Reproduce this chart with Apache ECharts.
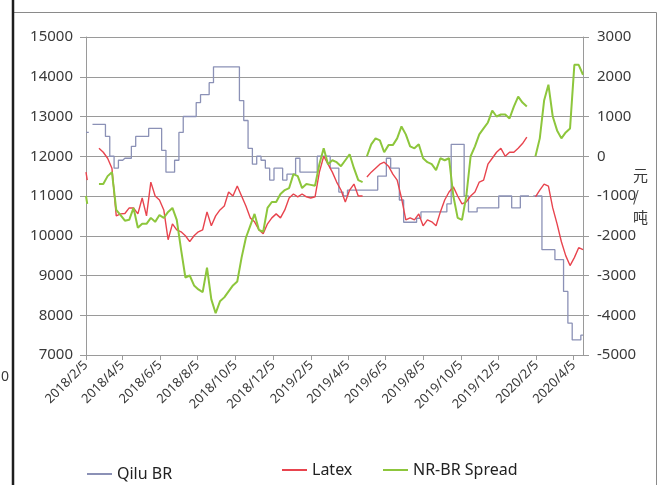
<!DOCTYPE html>
<html>
<head>
<meta charset="utf-8">
<script src="https://cdn.jsdelivr.net/npm/echarts@6/dist/echarts.min.js"></script>
<style>
  html, body { margin: 0; padding: 0; background: #fff; }
  #chart { width: 668px; height: 485px; }
</style>
</head>
<body>
<div id="chart"></div>
<script>
// Weekly observation dates (extra dates mark the start and the May holiday break)
const dates = [
  '2018-02-05','2018-02-07','2018-02-12','2018-02-19','2018-02-26','2018-03-05','2018-03-12','2018-03-19','2018-03-26',
  '2018-04-02','2018-04-09','2018-04-16','2018-04-23','2018-04-30','2018-05-07','2018-05-14','2018-05-21','2018-05-28',
  '2018-06-04','2018-06-11','2018-06-18','2018-06-25','2018-07-02','2018-07-09','2018-07-16','2018-07-23','2018-07-30',
  '2018-08-06','2018-08-13','2018-08-20','2018-08-27','2018-09-03','2018-09-10','2018-09-17','2018-09-24','2018-10-01',
  '2018-10-08','2018-10-15','2018-10-22','2018-10-29','2018-11-05','2018-11-12','2018-11-19','2018-11-26','2018-12-03',
  '2018-12-10','2018-12-17','2018-12-24','2018-12-31','2019-01-07','2019-01-14','2019-01-21','2019-01-28','2019-02-04',
  '2019-02-11','2019-02-18','2019-02-25','2019-03-04','2019-03-11','2019-03-18','2019-03-25','2019-04-01','2019-04-08',
  '2019-04-15','2019-04-22','2019-04-29','2019-05-02','2019-05-06','2019-05-13','2019-05-20','2019-05-27','2019-06-03',
  '2019-06-10','2019-06-17','2019-06-24','2019-07-01','2019-07-08','2019-07-15','2019-07-22','2019-07-29','2019-08-05',
  '2019-08-12','2019-08-19','2019-08-26','2019-09-02','2019-09-09','2019-09-16','2019-09-23','2019-09-30','2019-10-07',
  '2019-10-14','2019-10-21','2019-10-28','2019-11-04','2019-11-11','2019-11-18','2019-11-25','2019-12-02','2019-12-09',
  '2019-12-16','2019-12-23','2019-12-30','2020-01-06','2020-01-13','2020-01-20','2020-01-27','2020-02-03','2020-02-10',
  '2020-02-17','2020-02-24','2020-03-02','2020-03-09','2020-03-16','2020-03-23','2020-03-30','2020-04-06','2020-04-13',
  '2020-04-20'
];

// Qilu BR price, 元/吨 (left axis)
const qiluBR = [
  12600,12600,null,12800,12800,12800,12500,12000,11700,
  11900,11950,11950,12250,12500,12500,12500,12700,12700,
  12700,12150,11600,11600,11900,12600,13000,13000,13000,
  13350,13550,13550,13850,14250,14250,14250,14250,14250,
  14250,13400,12900,12200,11800,12000,11900,11700,11400,
  11700,11700,11400,11550,11550,11950,11600,11600,11600,
  11600,12000,12000,12000,11700,11700,11100,11000,11150,
  11150,11150,11150,11150,11150,11150,11150,11500,11500,
  11950,11700,11700,10900,10340,10340,10340,10440,10600,
  10600,10600,10600,10600,10600,10800,12300,12300,12300,
  11000,10600,10600,10700,10700,10700,10700,10700,11000,
  11000,11000,10700,10700,11000,11000,null,11000,11000,
  9650,9650,9650,9400,9400,8600,7800,7380,7380,
  7500
];

// Latex price, 元/吨 (left axis)
const latex = [
  11600,11400,null,null,12200,12100,11950,11700,10500,
  10550,10560,10700,10700,10550,10950,10500,11350,11000,
  10900,10650,9900,10300,10150,10100,10000,9850,10000,
  10100,10150,10600,10250,10500,10650,10750,11100,11000,
  11250,11000,10750,10450,10350,10150,10050,10300,10450,
  10550,10450,10650,10950,11050,10980,11050,10980,10950,
  10980,11600,12000,11800,11600,11350,11150,10850,11150,
  11300,11000,11000,null,11480,11600,11700,11800,11850,
  11750,11550,11400,10950,10400,10450,10400,10550,10250,
  10400,10350,10250,10600,10900,11100,11230,11000,10800,
  10850,11000,11100,11350,11400,11800,11950,12100,12200,
  12000,12100,12100,12200,12320,12480,null,10980,11150,
  11300,11250,10700,10300,9850,9500,9250,9450,9700,
  9650
];

// NR-BR spread, 元/吨 (right axis)
const nrBrSpread = [
  -1000,-1200,null,null,-700,-700,-500,-400,-1350,
  -1480,-1620,-1600,-1300,-1800,-1700,-1700,-1550,-1650,
  -1480,-1550,-1400,-1300,-1600,-2350,-3050,-3000,-3250,
  -3350,-3420,-2800,-3600,-3950,-3650,-3550,-3400,-3250,
  -3150,-2550,-2050,-1750,-1450,-1850,-1900,-1300,-1150,
  -1150,-950,-850,-800,-450,-500,-800,-700,-720,
  -740,-200,200,-200,-100,-150,-250,-100,50,
  -300,-600,-650,null,0,300,450,400,100,
  280,280,450,750,550,250,200,300,-50,
  -150,-200,-350,-50,-100,-50,-1000,-1550,-1600,
  -1000,0,250,550,700,850,1150,1000,1050,
  1050,950,1250,1500,1350,1250,null,0,450,
  1400,1800,1000,650,450,600,700,2300,2300,
  2050
];

// Bottom axis labels
const xTickLabels = [
  '2018/2/5','2018/4/5','2018/6/5','2018/8/5','2018/10/5','2018/12/5','2019/2/5',
  '2019/4/5','2019/6/5','2019/8/5','2019/10/5','2019/12/5','2020/2/5','2020/4/5'
];

function toTime(s) {
  const p = s.split(/[\/-]/).map(Number);
  return new Date(p[0], p[1] - 1, p[2]).getTime();
}
function pairs(vals) {
  return dates.map((d, i) => [toTime(d), vals[i]]);
}
function plain(v) { return String(v); }

const labelFont = 'Noto Sans';
const txt = '#3a3a3a';
const gridGray = '#9a9a9a';
const tickTimes = xTickLabels.map(toTime);

const colQilu = '#8b91b6';
const colLatex = '#e8444e';
const colSpread = '#8dc63c';

const chart = echarts.init(document.getElementById('chart'), null, { renderer: 'canvas' });

function legendItem(name, left, top, color) {
  return {
    data: [{ name: name, icon: 'rect', itemStyle: { color: color } }],
    left: left, top: top, itemWidth: 25, itemHeight: 2,
    textStyle: { fontFamily: labelFont, fontSize: 16, color: '#222' }
  };
}

chart.setOption({
  animation: false,
  backgroundColor: '#ffffff',
  grid: { left: 86, right: 85, top: 37, bottom: 130, containLabel: false, outerBoundsMode: 'none' },
  xAxis: {
    type: 'value',
    min: toTime(dates[0]),
    max: toTime(dates[dates.length - 1]),
    axisLine: { show: true, onZero: false, lineStyle: { color: gridGray, width: 1 } },
    axisTick: {
      show: true, length: 5, inside: false,
      customValues: tickTimes,
      lineStyle: { color: gridGray }
    },
    splitLine: { show: false },
    axisLabel: {
      customValues: tickTimes,
      rotate: 45,
      margin: 8,
      hideOverlap: false,
      showMinLabel: true,
      showMaxLabel: true,
      fontFamily: labelFont,
      fontSize: 13,
      color: txt,
      formatter: function (v) {
        const d = new Date(v);
        return d.getFullYear() + '/' + (d.getMonth() + 1) + '/' + d.getDate();
      }
    }
  },
  yAxis: [
    {
      type: 'value',
      position: 'left',
      min: 7000, max: 15000, interval: 1000,
      axisLine: { show: true, lineStyle: { color: gridGray } },
      axisTick: { show: true, length: 6, lineStyle: { color: gridGray } },
      splitLine: { show: true, lineStyle: { color: gridGray, width: 1 } },
      axisLabel: { margin: 13, fontFamily: labelFont, fontSize: 15, color: txt, formatter: plain }
    },
    {
      type: 'value',
      position: 'right',
      min: -5000, max: 3000, interval: 1000,
      name: '元\n/\n吨',
      nameLocation: 'middle',
      nameRotate: 0,
      nameGap: 50,
      nameMoveOverlap: false,
      nameTextStyle: { fontFamily: 'Noto Sans CJK SC', fontSize: 15, color: txt, lineHeight: 21, align: 'left' },
      axisLine: { show: true, lineStyle: { color: gridGray } },
      axisTick: { show: true, length: 6, lineStyle: { color: gridGray } },
      splitLine: { show: false },
      axisLabel: { margin: 14, fontFamily: labelFont, fontSize: 15, color: txt, formatter: plain }
    }
  ],
  legend: [
    legendItem('Qilu BR', 82, 461, colQilu),
    legendItem('Latex', 277, 457, colLatex),
    legendItem('NR-BR Spread', 378, 457, colSpread)
  ],
  graphic: [
    { type: 'rect', silent: true, shape: { x: 13.5, y: 12.5, width: 643, height: 490 },
      style: { fill: 'none', stroke: '#8a8a8a', lineWidth: 1 } },
    { type: 'line', silent: true, shape: { x1: 13, y1: 0, x2: 13, y2: 485 },
      style: { stroke: '#1e1e1e', lineWidth: 2.5 } },
    { type: 'text', silent: true, left: 1, top: 370,
      style: { text: '0', font: '14px "Noto Sans"', fill: txt } }
  ],
  series: [
    {
      name: 'Qilu BR', type: 'line', yAxisIndex: 0, step: 'middle',
      data: pairs(qiluBR), symbol: 'none', connectNulls: false,
      lineStyle: { color: colQilu, width: 1.3 }, itemStyle: { color: colQilu }
    },
    {
      name: 'Latex', type: 'line', yAxisIndex: 0,
      data: pairs(latex), symbol: 'none', connectNulls: false,
      lineStyle: { color: colLatex, width: 1.4 }, itemStyle: { color: colLatex }
    },
    {
      name: 'NR-BR Spread', type: 'line', yAxisIndex: 1,
      data: pairs(nrBrSpread), symbol: 'none', connectNulls: false,
      lineStyle: { color: colSpread, width: 2 }, itemStyle: { color: colSpread }
    }
  ]
});
</script>
</body>
</html>
